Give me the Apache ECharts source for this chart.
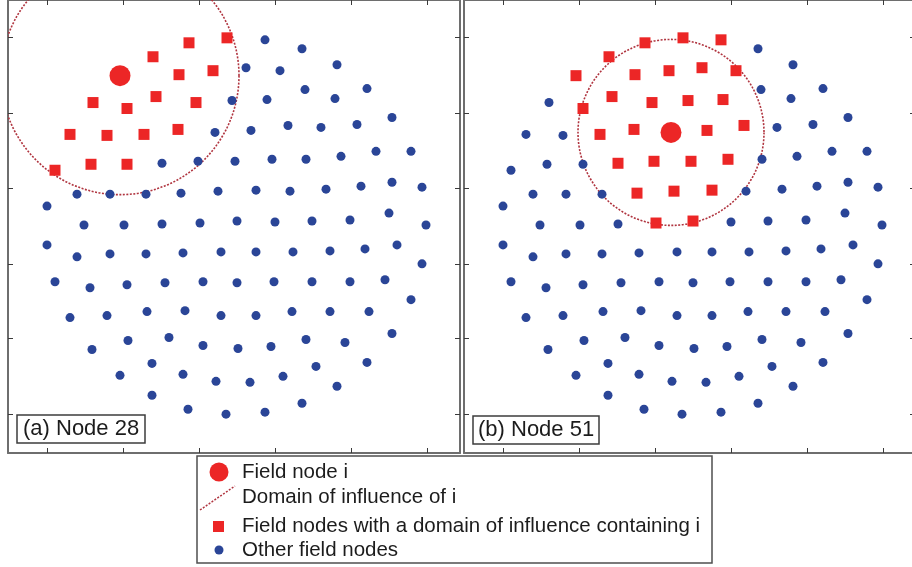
<!DOCTYPE html>
<html>
<head>
<meta charset="utf-8">
<title>Field nodes and domains of influence</title>
<script src="https://cdn.jsdelivr.net/npm/echarts@6/dist/echarts.min.js"></script>
<style>
  html, body { margin: 0; padding: 0; background: #fff; }
  #chart { width: 912px; height: 567px; }
</style>
</head>
<body>
<div id="chart"></div>
<script>
// Field node coordinates (node n is at index n-1), shared by both panels.
const nodeX = [
  180, 142, 218, 106, 255, 290, 73, 132, 166, 199,
  233, 258, 320, 46, 80, 109, 149, 185, 220, 288,
  345, 23, 60, 97, 131, 168, 204, 241, 274, 310,
  8, 44, 80, 115, 151, 188, 225, 259, 294, 329, 364,
  30, 63, 99, 134, 171, 209, 243, 279, 314, 345, 375,
  0, 37, 77, 115, 153, 190, 228, 265, 303, 342, 379,
  0, 30, 63, 99, 136, 174, 209, 246, 283, 318, 350, 375,
  8, 43, 80, 118, 156, 190, 227, 265, 303, 338, 364,
  23, 60, 100, 138, 174, 209, 245, 283, 322, 345,
  45, 81, 122, 156, 191, 224, 259, 298, 320,
  105, 73, 136, 169, 203, 236, 269, 290,
  105, 141, 179, 218, 255
];
const nodeY = [
  378, 373, 376, 359, 367, 351, 340, 341, 345, 348,
  345, 326, 327, 313, 307, 319, 313, 315, 316, 317,
  298, 281, 280, 281, 286, 283, 285, 290, 288, 291,
  245, 251, 251, 252, 254, 254, 256, 256, 259, 264, 264,
  221, 221, 221, 222, 224, 225, 224, 226, 229, 233, 228,
  209, 190, 190, 191, 192, 194, 193, 194, 195, 202, 190,
  170, 158, 161, 161, 162, 163, 163, 163, 164, 166, 170, 151,
  133, 127, 130, 132, 133, 132, 133, 133, 133, 135, 115,
  97, 99, 103, 104, 99, 99, 103, 103, 103, 81,
  65, 74, 77, 69, 66, 68, 75, 72, 52,
  51, 39, 40, 33, 32, 38, 48, 28,
  19, 5, 0, 2, 11
];

// Tick positions on the frame
const ticksX = [0, 76, 152, 228, 304, 380];
const ticksY = [0, 76, 151, 227, 302, 379];

// Panel (a): the field node, its influence radius, and the nodes whose domain contains it
const fieldNodeA = 7;
const radiusA = 119;
const supportA = [1, 2, 4, 8, 9, 14, 15, 16, 17, 22, 23, 24, 25, 31, 32, 33];

// Panel (b)
const fieldNodeB = 26;
const radiusB = 93;
const supportB = [1, 2, 3, 4, 7, 8, 9, 10, 11, 15, 16, 17, 18, 19, 24, 25, 27, 28,
                  34, 35, 36, 37, 45, 46, 47, 57, 58];

const panelTitles = ['(a) Node 28', '(b) Node 51'];
const legendLabels = [
  'Field node i',
  'Domain of influence of i',
  'Field nodes with a domain of influence containing i',
  'Other field nodes'
];

const RED = '#ec2626';
const BLUE = '#2a4597';
const DOMAIN = '#b0343f';
const FRAME = '#6e6e6e';
const FONT = '"Liberation Sans", Arial, sans-serif';

// Visible data window of each panel (panel b runs off the right edge of the page)
const X_MIN = -39;
const X_MAX_A = 413, X_MAX_B = 409;
const Y_MIN = -39, Y_MAX = 416;

function point(n) { return [nodeX[n - 1], nodeY[n - 1]]; }

function makeAxis(kind, gridIndex, position, ticks, xMax, lineShown, tickLen) {
  return {
    type: 'value',
    gridIndex: gridIndex,
    position: position,
    min: kind === 'x' ? X_MIN : Y_MIN,
    max: kind === 'x' ? xMax : Y_MAX,
    axisLine: { show: lineShown, onZero: false, lineStyle: { color: FRAME, width: 2 } },
    axisTick: { show: true, inside: true, length: tickLen, customValues: ticks,
                lineStyle: { color: '#3a3a3a', width: 1 } },
    axisLabel: { show: false },
    splitLine: { show: false }
  };
}

function panelSeries(axisIndex, fieldNode, radius, support) {
  const others = [];
  for (let n = 1; n <= nodeX.length; n++) {
    if (n !== fieldNode && support.indexOf(n) < 0) others.push(point(n));
  }
  const c = point(fieldNode);
  return [
    {
      name: legendLabels[1],
      type: 'custom',
      xAxisIndex: axisIndex, yAxisIndex: axisIndex,
      z: 1,
      silent: true,
      data: [[c[0], c[1], radius]],
      renderItem: function (params, api) {
        const ctr = api.coord([api.value(0), api.value(1)]);
        const r = api.size([api.value(2), 0])[0];
        const cs = params.coordSys;
        return {
          type: 'group',
          clipPath: { type: 'rect', shape: { x: cs.x, y: cs.y, width: cs.width, height: cs.height } },
          children: [{
            type: 'circle',
            shape: { cx: ctr[0], cy: ctr[1], r: r },
            style: { fill: 'none', stroke: DOMAIN, lineWidth: 1.6, lineDash: [2, 1.5] }
          }]
        };
      }
    },
    {
      name: legendLabels[3],
      type: 'scatter',
      xAxisIndex: axisIndex, yAxisIndex: axisIndex,
      symbol: 'circle', symbolSize: 9,
      itemStyle: { color: BLUE, opacity: 1 },
      z: 2,
      data: others
    },
    {
      name: legendLabels[2],
      type: 'scatter',
      xAxisIndex: axisIndex, yAxisIndex: axisIndex,
      symbol: 'rect', symbolSize: 11,
      itemStyle: { color: RED, opacity: 1 },
      z: 3,
      data: support.map(point)
    },
    {
      name: legendLabels[0],
      type: 'scatter',
      xAxisIndex: axisIndex, yAxisIndex: axisIndex,
      symbol: 'circle', symbolSize: 21,
      itemStyle: { color: RED, opacity: 1 },
      z: 4,
      data: [c]
    }
  ];
}

const titleStyle = {
  fontFamily: FONT, fontSize: 22, fontWeight: 'normal', color: '#1c1c1c', lineHeight: 26
};

const legendX = 242;
const legendYs = [472, 497, 526, 550];

const option = {
  animation: false,
  backgroundColor: '#ffffff',
  grid: [
    { left: 8, top: -2, width: 452, height: 455 },
    { left: 464, top: -2, width: 448, height: 455 }
  ],
  xAxis: [
    makeAxis('x', 0, 'bottom', ticksX, X_MAX_A, true, 5),
    makeAxis('x', 0, 'top', ticksX, X_MAX_A, true, 5),
    makeAxis('x', 1, 'bottom', ticksX, X_MAX_B, true, 5),
    makeAxis('x', 1, 'top', ticksX, X_MAX_B, true, 5)
  ],
  yAxis: [
    makeAxis('y', 0, 'left', ticksY, X_MAX_A, true, 5),
    makeAxis('y', 0, 'right', ticksY, X_MAX_A, true, 5),
    makeAxis('y', 1, 'left', ticksY, X_MAX_B, true, 5),
    makeAxis('y', 1, 'right', ticksY, X_MAX_B, false, 2)
  ],
  title: [
    { text: panelTitles[0], left: 17, top: 415, padding: [1, 6, 1, 6],
      borderWidth: 1.5, borderColor: '#3c3c3c', backgroundColor: '#fff', textStyle: titleStyle },
    { text: panelTitles[1], left: 473, top: 416, padding: [1, 5, 1, 5],
      borderWidth: 1.5, borderColor: '#3c3c3c', backgroundColor: '#fff', textStyle: titleStyle }
  ],
  series: [].concat(
    panelSeries(0, fieldNodeA, radiusA, supportA),
    panelSeries(2, fieldNodeB, radiusB, supportB)
  ),
  graphic: [
    {
      type: 'group', z: 100,
      children: [
        { type: 'rect', shape: { x: 197, y: 456, width: 515, height: 107 },
          style: { fill: '#fff', stroke: '#4f4f4f', lineWidth: 1.5 } },
        { type: 'circle', shape: { cx: 219, cy: 472, r: 9.5 }, style: { fill: RED } },
        { type: 'line', shape: { x1: 200, y1: 510, x2: 235, y2: 486 },
          style: { stroke: DOMAIN, lineWidth: 1.5, lineDash: [2, 1.5] } },
        { type: 'rect', shape: { x: 213, y: 521, width: 11, height: 11 }, style: { fill: RED } },
        { type: 'circle', shape: { cx: 219, cy: 550, r: 4.5 }, style: { fill: BLUE } }
      ].concat(legendLabels.map((t, i) => ({
        type: 'text', x: legendX, y: legendYs[i],
        style: { text: t, fill: '#1c1c1c', font: '20.5px ' + FONT, verticalAlign: 'middle', align: 'left' }
      })))
    }
  ]
};

const chart = echarts.init(document.getElementById('chart'), null, { renderer: 'canvas' });
chart.setOption(option);
</script>
</body>
</html>
